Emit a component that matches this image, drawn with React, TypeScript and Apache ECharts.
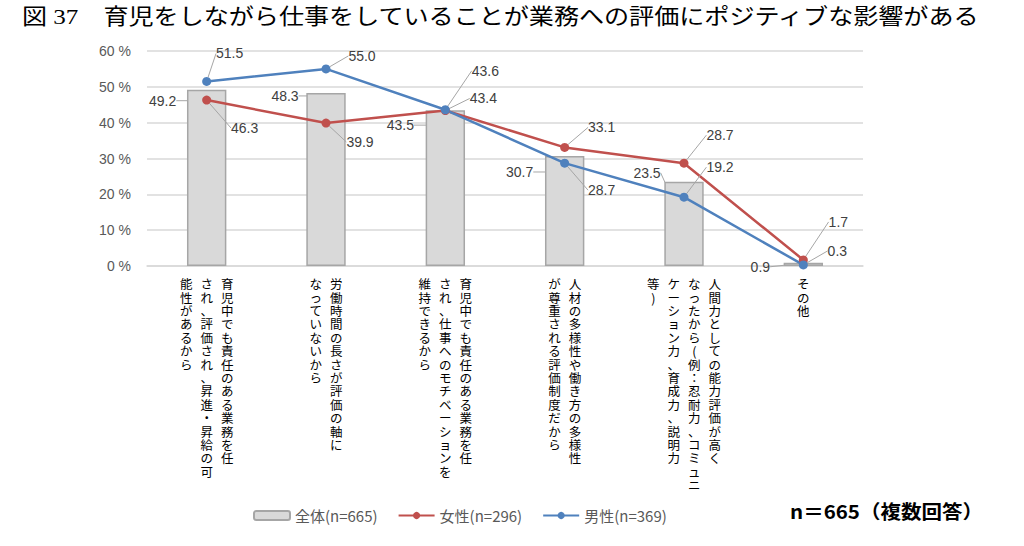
import React, { useEffect, useRef } from "react";
import * as echarts from "echarts";

const titleText = "図 37　育児をしながら仕事をしていることが業務への評価にポジティブな影響がある";
const noteText = "n＝665（複数回答）";

const categoryLines: string[][] = [
  ["育児中でも責任のある業務を任", "され、評価され、昇進・昇給の可", "能性があるから"],
  ["労働時間の長さが評価の軸に", "なっていないから"],
  ["育児中でも責任のある業務を任", "され、仕事へのモチベーションを", "維持できるから"],
  ["人材の多様性や働き方の多様性", "が尊重される評価制度だから"],
  ["人間力としての能力評価が高く", "なったから(例：忍耐力、コミュニ", "ケーション力、育成力、説明力", "等)"],
  ["その他"],
];
const categories = categoryLines.map((l) => l.join(""));

const seriesNames = ["全体(n=665)", "女性(n=296)", "男性(n=369)"];
const totalValues = [49.2, 48.3, 43.5, 30.7, 23.5, 0.9];
const femaleValues = [46.3, 39.9, 43.4, 33.1, 28.7, 1.7];
const maleValues = [51.5, 55.0, 43.6, 28.7, 19.2, 0.3];

const yMin = 0;
const yMax = 60;
const yInterval = 10;

// label offsets in px from the anchor of each mark (layout only)
const totalLabelOffsets = [[-44, 11], [-41, 3], [-45, 15], [-45, 16], [-37, -9], [-43, 4]];
const femaleLabelOffsets = [[38, 28], [34, 19], [38, -12], [37, -20], [36, -28], [35, -38]];
const maleLabelOffsets = [[23, -28], [36, -13], [40, -39], [37, 27], [36, -30], [34, -14]];

const labelFont = "'Liberation Sans', 'Noto Sans CJK JP', sans-serif";
const jpFont = "'Noto Sans CJK JP', sans-serif";

export default function App() {
  const ref = useRef<HTMLDivElement>(null);
  useEffect(() => {
    document.body.style.margin = "0";
    if (!ref.current) return;
    const chart = echarts.init(ref.current, undefined, { renderer: "svg" });

    const makeLayout = (offsets: number[][], isBar: boolean) => (p: any) => {
      const r = p.rect;
      const ax = r.x + r.width / 2;
      const ay = isBar ? r.y : r.y + r.height / 2;
      const o = offsets[p.dataIndex] || [0, 0];
      return { x: ax + o[0], y: ay + o[1], align: "center", verticalAlign: "middle" };
    };

    const labelCommon = {
      show: true,
      position: "inside",
      fontSize: 14,
      color: "#404040",
      fontFamily: labelFont,
      formatter: (p: any) => Number(p.value).toFixed(1),
    };
    const labelLine = { show: true, lineStyle: { color: "#a6a6a6", width: 1 } };

    const titleGraphic = {
      type: "text",
      id: "title",
      x: 22,
      y: 17,
      scaleX: 1.14,
      style: {
        text: titleText,
        fontSize: 22,
        fontFamily: "'Liberation Serif', 'Noto Sans CJK JP', serif",
        fill: "#000",
        verticalAlign: "middle",
        align: "left",
      },
    };
    const noteGraphic = {
      type: "text",
      id: "note",
      x: 790,
      y: 511,
      scaleX: 1.08,
      style: {
        text: noteText,
        fontSize: 19,
        fontWeight: "bold",
        fontFamily: jpFont,
        fill: "#000",
        verticalAlign: "middle",
        align: "left",
      },
    };

    chart.setOption({
      animation: false,
      grid: { left: 147, right: 161, top: 51, bottom: 280 },
      legend: {
        left: 248,
        top: 503,
        itemWidth: 36,
        itemHeight: 9,
        itemGap: 20,
        textStyle: { fontSize: 15, color: "#595959", fontFamily: jpFont, width: 104 },
        data: seriesNames,
      },
      xAxis: {
        type: "category",
        data: categories,
        axisLine: { lineStyle: { color: "#d9d9d9", width: 1.5 } },
        axisTick: { show: false },
        axisLabel: { show: false },
      },
      yAxis: {
        type: "value",
        min: yMin,
        max: yMax,
        interval: yInterval,
        axisLine: { show: false },
        axisTick: { show: false },
        splitLine: { lineStyle: { color: "#d9d9d9", width: 1.5 } },
        axisLabel: {
          formatter: "{value} %",
          fontSize: 14,
          color: "#595959",
          fontFamily: labelFont,
          margin: 16,
        },
      },
      series: [
        {
          name: seriesNames[0],
          type: "bar",
          data: totalValues,
          barWidth: "33%",
          itemStyle: { color: "#d9d9d9", borderColor: "#a6a6a6", borderWidth: 1.5 },
          label: labelCommon,
          labelLine,
          labelLayout: makeLayout(totalLabelOffsets, true),
        },
        {
          name: seriesNames[1],
          type: "line",
          data: femaleValues,
          symbol: "circle",
          symbolSize: 9,
          lineStyle: { color: "#c0504d", width: 2.5 },
          itemStyle: { color: "#c0504d" },
          label: labelCommon,
          labelLine,
          labelLayout: makeLayout(femaleLabelOffsets, false),
        },
        {
          name: seriesNames[2],
          type: "line",
          data: maleValues,
          symbol: "circle",
          symbolSize: 9,
          lineStyle: { color: "#4f81bd", width: 2.5 },
          itemStyle: { color: "#4f81bd" },
          label: labelCommon,
          labelLine,
          labelLayout: makeLayout(maleLabelOffsets, false),
        },
      ],
      graphic: [titleGraphic, noteGraphic],
    });

    const colSpacing = 20.5;
    const catGraphics: any[] = [];
    categoryLines.forEach((lines, ci) => {
      const cx = chart.convertToPixel({ xAxisIndex: 0 }, ci) as number;
      const n = lines.length;
      lines.forEach((line, li) => {
        const x = cx + ((n - 1) / 2 - li) * colSpacing;
        catGraphics.push({
          type: "text",
          id: `cat-${ci}-${li}`,
          x,
          y: 277,
          style: {
            text: Array.from(line).join("\n"),
            fontSize: 12.5,
            lineHeight: 13.4,
            fontFamily: jpFont,
            fill: "#000",
            align: "center",
            verticalAlign: "top",
          },
        });
      });
    });
    chart.setOption({ graphic: [titleGraphic, noteGraphic, ...catGraphics] });

    return () => chart.dispose();
  }, []);
  return <div ref={ref} style={{ width: 1024, height: 546 }} />;
}
